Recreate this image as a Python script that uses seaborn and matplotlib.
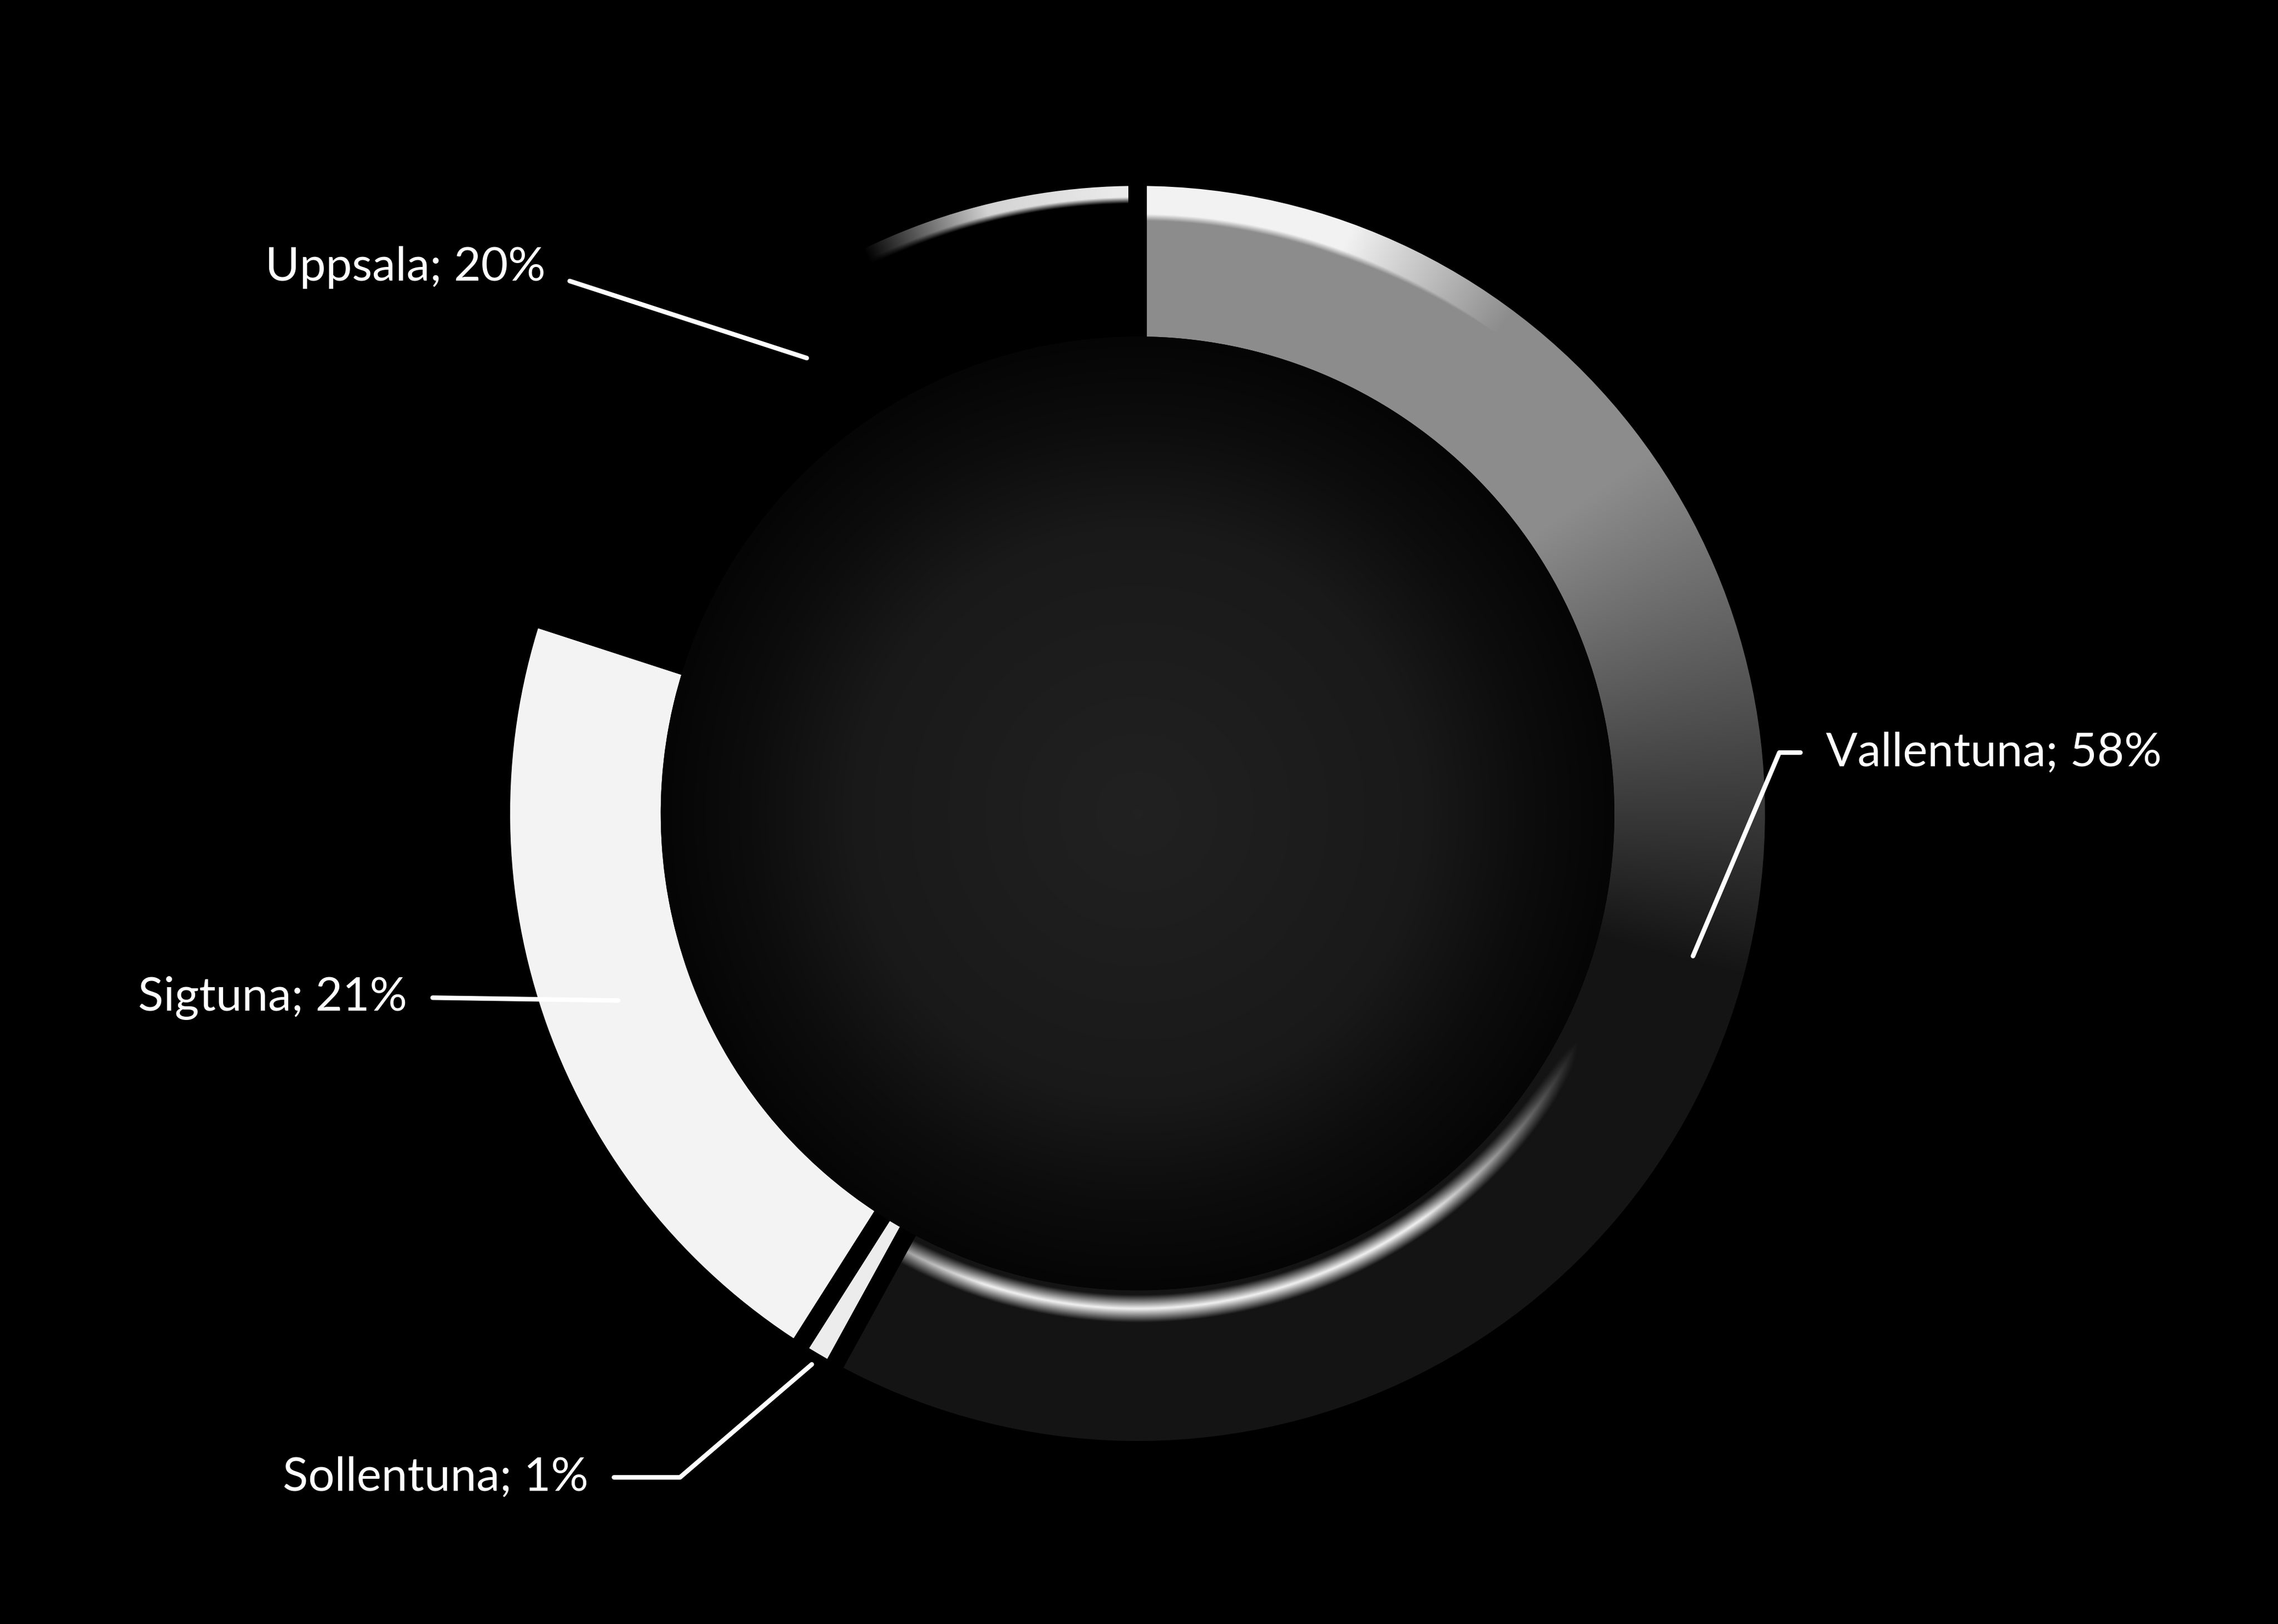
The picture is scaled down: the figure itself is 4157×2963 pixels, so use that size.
import numpy as np
import matplotlib.pyplot as plt
import seaborn as sns
from matplotlib.patches import Circle

# data
kommuner = ['Vallentuna', 'Sollentuna', 'Sigtuna', 'Uppsala']
andel = [58, 1, 21, 20]
farger = ['#8a8a8a', '#ececec', '#f3f3f3', '#000000']

# label layout (axes data units, pie radius = 1)
etikett_x = [1.097, -0.875, -1.164, -0.944]
etikett_y = [0.097, -1.058, -0.293, 0.870]
etikett_ha = ['left', 'right', 'right', 'right']
spets_r = [0.914, 1.02, 0.88, 0.897]
kopplingar = ['angle,angleA=0,angleB=67,rad=0',
              'angle,angleA=0,angleB=40.6,rad=0',
              'arc3,rad=0',
              'angle,angleA=0,angleB=-18,rad=0']

sns.set_theme(style='dark', rc={'figure.facecolor': 'black', 'axes.facecolor': 'black',
                                'text.color': 'white'})
plt.rcParams['font.family'] = ['Lato', 'DejaVu Sans']

fig = plt.figure(figsize=(4157 / 300, 2963 / 300), dpi=300)
ax = fig.add_axes([0, 0, 1, 1])

kant = 8          # gap between slices, pt
h = 0.0146        # half of that gap in data units
R = 1.0 + h
W = 0.24 + 2 * h

wedges, _ = ax.pie(andel, colors=farger, startangle=90, counterclock=False, radius=R,
                   wedgeprops=dict(width=W, linewidth=0, zorder=1))

# shading like the Excel bevel / gradient
g = np.linspace(-1.05, 1.05, 1400)
gx, gy = np.meshgrid(g, g)
rr = np.hypot(gx, gy)
aa = np.degrees(np.arctan2(gy, gx))


def overlay(level, clip, z=1.5):
    rgba = np.dstack([level, level, level, np.ones_like(level)])
    im = ax.imshow(rgba, extent=(-1.05, 1.05, -1.05, 1.05), origin='lower',
                   interpolation='bilinear', aspect='equal', zorder=z)
    im.set_clip_path(clip)


body = np.interp(aa, [-15, 35], [0.08, 0.55])
yttre = np.clip((rr - 0.93) / 0.025, 0, 1) * np.interp(aa, [30, 70], [0, 1])
inre = np.clip(1 - np.abs(rr - 0.79) / 0.024, 0, 1) * np.interp(aa, [-120, -108, -55, -25], [0.6, 1, 1, 0])
overlay(np.maximum(body, 0.95 * np.maximum(yttre, inre)), wedges[0])

kant_u = np.clip((rr - 0.972) / 0.01, 0, 1) * np.interp(aa, [92, 104, 116], [1, 0.9, 0])
overlay(0.92 * kant_u, wedges[3])

# black borders on top
ax.pie(andel, startangle=90, counterclock=False, radius=R,
       wedgeprops=dict(width=W, edgecolor='black', linewidth=kant, fill=False, zorder=3))

# dark hole, lighter in the middle, covering the inner border
hal = Circle((0, 0), R - W + h, transform=ax.transData)
overlay(np.interp(rr, [0, 0.45, 0.62, 0.76], [0.13, 0.10, 0.05, 0.02]), hal, z=3.5)

for w, namn, p, lx, ly, ha, rt, cs in zip(wedges, kommuner, andel, etikett_x, etikett_y,
                                          etikett_ha, spets_r, kopplingar):
    mid = np.radians((w.theta1 + w.theta2) / 2)
    ax.annotate(f'{namn}; {p}%', xy=(rt * np.cos(mid), rt * np.sin(mid)), xytext=(lx, ly),
                ha=ha, va='center', color='white', fontsize=20.5, zorder=5,
                arrowprops=dict(arrowstyle='-', color='white', lw=2, shrinkA=9, shrinkB=0,
                                relpos=(1 if ha == 'right' else 0, 0.5), connectionstyle=cs))

ax.set_xlim(-1.8125, 1.8171)
ax.set_ylim(-1.2917, 1.2963)
ax.set_aspect('equal')
ax.axis('off')

fig.savefig('out.png', dpi=300, facecolor='black')
